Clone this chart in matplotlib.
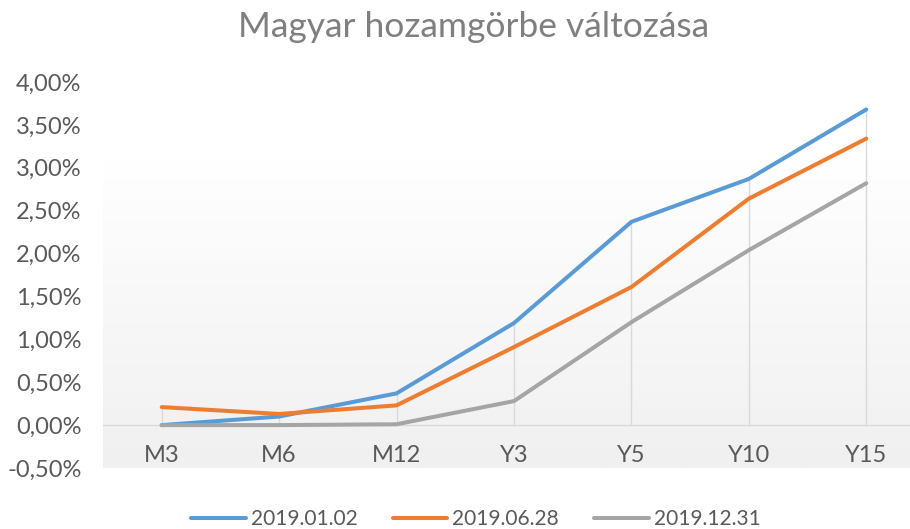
import numpy as np
import matplotlib.pyplot as plt
from matplotlib.ticker import FuncFormatter
from matplotlib.colors import LinearSegmentedColormap

plt.rcParams['font.family'] = ['Lato', 'DejaVu Sans']

categories = ['M3', 'M6', 'M12', 'Y3', 'Y5', 'Y10', 'Y15']
s_jan = [0.00, 0.10, 0.37, 1.19, 2.37, 2.87, 3.68]
s_jun = [0.21, 0.13, 0.23, 0.91, 1.61, 2.64, 3.34]
s_dec = [0.00, 0.00, 0.01, 0.28, 1.20, 2.04, 2.82]
labels = ['2019.01.02', '2019.06.28', '2019.12.31']
colors = ['#5b9bd5', '#ed7d31', '#a5a5a5']
yticks = [-0.5, 0, 0.5, 1, 1.5, 2, 2.5, 3, 3.5, 4]

W, H = 910, 529
fig = plt.figure(figsize=(W / 100, H / 100), dpi=100)
# plot area in pixels: left 103, right 925 (past the edge), top 82, bottom 468
ax = fig.add_axes([103 / W, (H - 468) / H, (925 - 103) / W, (468 - 82) / H])

x = np.arange(len(categories))
ax.set_xlim(-0.5, len(categories) - 0.5)
ax.set_ylim(-0.5, 4.0)

# gradient background, white at the top, light gray at the bottom
cmap = LinearSegmentedColormap.from_list('bg', [(0, '#ffffff'), (0.2, '#ffffff'), (1, '#f0f0f0')])
grad = np.linspace(0, 1, 256).reshape(-1, 1)
ax.imshow(grad, cmap=cmap, aspect='auto', extent=(-0.5, len(categories) - 0.5, -0.5, 4.0),
          zorder=0, vmin=0, vmax=1)

series = [s_jan, s_jun, s_dec]
# drop lines
tops = np.max(np.array(series), axis=0)
ax.vlines(x, 0, tops, color='#d9d9d9', lw=1.0, zorder=1)

for vals, c, lab in zip(series, colors, labels):
    ax.plot(x, vals, color=c, lw=2.9, label=lab, zorder=3, solid_capstyle='round')

for s in ['top', 'right', 'left']:
    ax.spines[s].set_visible(False)
ax.spines['bottom'].set_position(('data', 0))
ax.spines['bottom'].set_color('#d9d9d9')
ax.spines['bottom'].set_linewidth(1.0)
ax.spines['bottom'].set_zorder(2)

ax.set_xticks(x)
ax.set_xticklabels(categories)
ax.set_yticks(yticks)
ax.yaxis.set_major_formatter(FuncFormatter(lambda v, p: f'{v:.2f}%'.replace('.', ',')))
ax.tick_params(axis='both', length=0, labelsize=17, labelcolor='#595959')
ax.tick_params(axis='x', pad=14)
ax.tick_params(axis='y', pad=15.5)

fig.text(473.5 / W, 1 - 37 / H, 'Magyar hozamgörbe változása', ha='center', va='baseline',
         fontsize=25.5, color='#7f7f7f')

leg = fig.legend(loc='center', bbox_to_anchor=(476 / W, 1 - 519 / H), ncol=3, frameon=False,
                 fontsize=15, handlelength=2.6, handletextpad=0.25, columnspacing=1.7)
for t in leg.get_texts():
    t.set_color('#595959')

fig.savefig('out.png', dpi=100)
